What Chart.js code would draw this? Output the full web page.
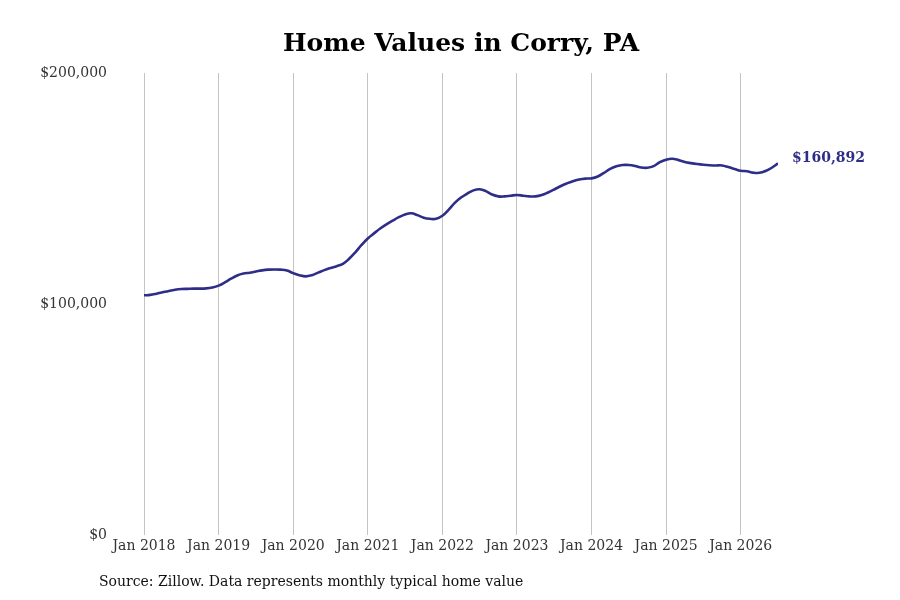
<!DOCTYPE html>
<html>
<head>
<meta charset="utf-8">
<title>Home Values in Corry, PA</title>
<script src="https://cdn.jsdelivr.net/npm/chart.js@4.4.1/dist/chart.umd.min.js"></script>
<style>
  html, body { margin: 0; padding: 0; background: #fff; }
  #wrap { width: 900px; height: 600px; }
</style>
</head>
<body>
<div id="wrap"><canvas id="homeChart" width="900" height="600"></canvas></div>
<script>
// valores mensuales, ene 2018 -> jul 2026 (miles de dólares)
const startYear = 2018;
const homeValues = [
  103.8, 104.0, 104.5, 105.1, 105.7, 106.2, 106.5, 106.6, 106.7, 106.7, 106.8, 107.2,
  108.0, 109.4, 111.0, 112.4, 113.2, 113.6, 114.1, 114.6, 114.9, 115.0, 114.9, 114.5,
  113.4, 112.5, 112.0, 112.5, 113.6, 114.7, 115.6, 116.4, 117.4, 119.6, 122.4, 125.6,
  128.4, 130.6, 132.7, 134.5, 136.1, 137.6, 138.8, 139.3, 138.5, 137.4, 136.9, 136.9,
  138.2, 140.8, 143.8, 146.1, 147.8, 149.2, 149.7, 148.9, 147.4, 146.6, 146.6, 146.9,
  147.2, 146.9, 146.6, 146.6, 147.2, 148.3, 149.6, 151.0, 152.2, 153.2, 153.9, 154.3,
  154.4, 155.2, 156.8, 158.5, 159.6, 160.2, 160.2, 159.8, 159.1, 159.0, 159.7, 161.4,
  162.5, 162.9, 162.3, 161.5, 161.0, 160.6, 160.3, 160.1, 160.0, 160.0, 159.3, 158.5,
  157.7, 157.5, 156.9, 156.8, 157.6, 159.0, 160.892
];
const yTicks = [0, 100000, 200000];
const xTickYears = [2018, 2019, 2020, 2021, 2022, 2023, 2024, 2025, 2026];
const sourceText = "Source: Zillow. Data represents monthly typical home value";

const lineColor = "#2e2d88";
const serif = "'DejaVu Serif', serif";

const points = homeValues.map((v, i) => ({ x: i, y: Math.round(v * 1000) }));

// Etiqueta final y fuente
const extrasPlugin = {
  id: "extras",
  afterDatasetsDraw(chart) {
    const ctx = chart.ctx;
    const meta = chart.getDatasetMeta(0);
    const last = meta.data[meta.data.length - 1];
    const lastVal = points[points.length - 1].y;
    ctx.save();
    ctx.font = "bold 14px " + serif;
    ctx.fillStyle = lineColor;
    ctx.textBaseline = "middle";
    ctx.textAlign = "left";
    ctx.fillText("$" + lastVal.toLocaleString("en-US"), last.x + 14, last.y - 5);
    ctx.font = "14px " + serif;
    ctx.fillStyle = "#111";
    ctx.fillText(sourceText, 99, 582);
    ctx.restore();
  }
};

new Chart(document.getElementById("homeChart").getContext("2d"), {
  type: "line",
  data: {
    datasets: [
      {
        data: points,
        borderColor: lineColor,
        borderWidth: 2.6,
        pointRadius: 0,
        tension: 0.4,
        fill: false
      }
    ]
  },
  options: {
    responsive: false,
    animation: false,
    layout: { padding: { left: 30, right: 122, top: 0, bottom: 42 } },
    plugins: {
      legend: { display: false },
      tooltip: { enabled: false },
      title: {
        display: true,
        text: "Home Values in Corry, PA",
        fullSize: false,
        color: "#000",
        font: { family: serif, size: 25, weight: "bold" },
        padding: { top: 29, bottom: 14 }
      }
    },
    scales: {
      x: {
        type: "linear",
        min: 0,
        max: homeValues.length - 1,
        afterBuildTicks(scale) {
          scale.ticks = xTickYears.map(y => ({ value: (y - startYear) * 12 }));
        },
        ticks: {
          color: "#333",
          font: { family: serif, size: 14 },
          padding: 3,
          maxRotation: 0,
          autoSkip: false,
          callback: v => "Jan " + (startYear + Math.round(v / 12))
        },
        grid: { color: "#c4c4c4", lineWidth: 1, drawTicks: false },
        border: { display: false }
      },
      y: {
        min: 0,
        max: 200000,
        afterBuildTicks(scale) {
          scale.ticks = yTicks.map(v => ({ value: v }));
        },
        afterFit(scale) { scale.width = 114; },
        ticks: {
          color: "#333",
          font: { family: serif, size: 14 },
          padding: 29,
          callback: v => "$" + v.toLocaleString("en-US")
        },
        grid: { display: false },
        border: { display: false }
      }
    }
  },
  plugins: [extrasPlugin]
});
</script>
</body>
</html>
